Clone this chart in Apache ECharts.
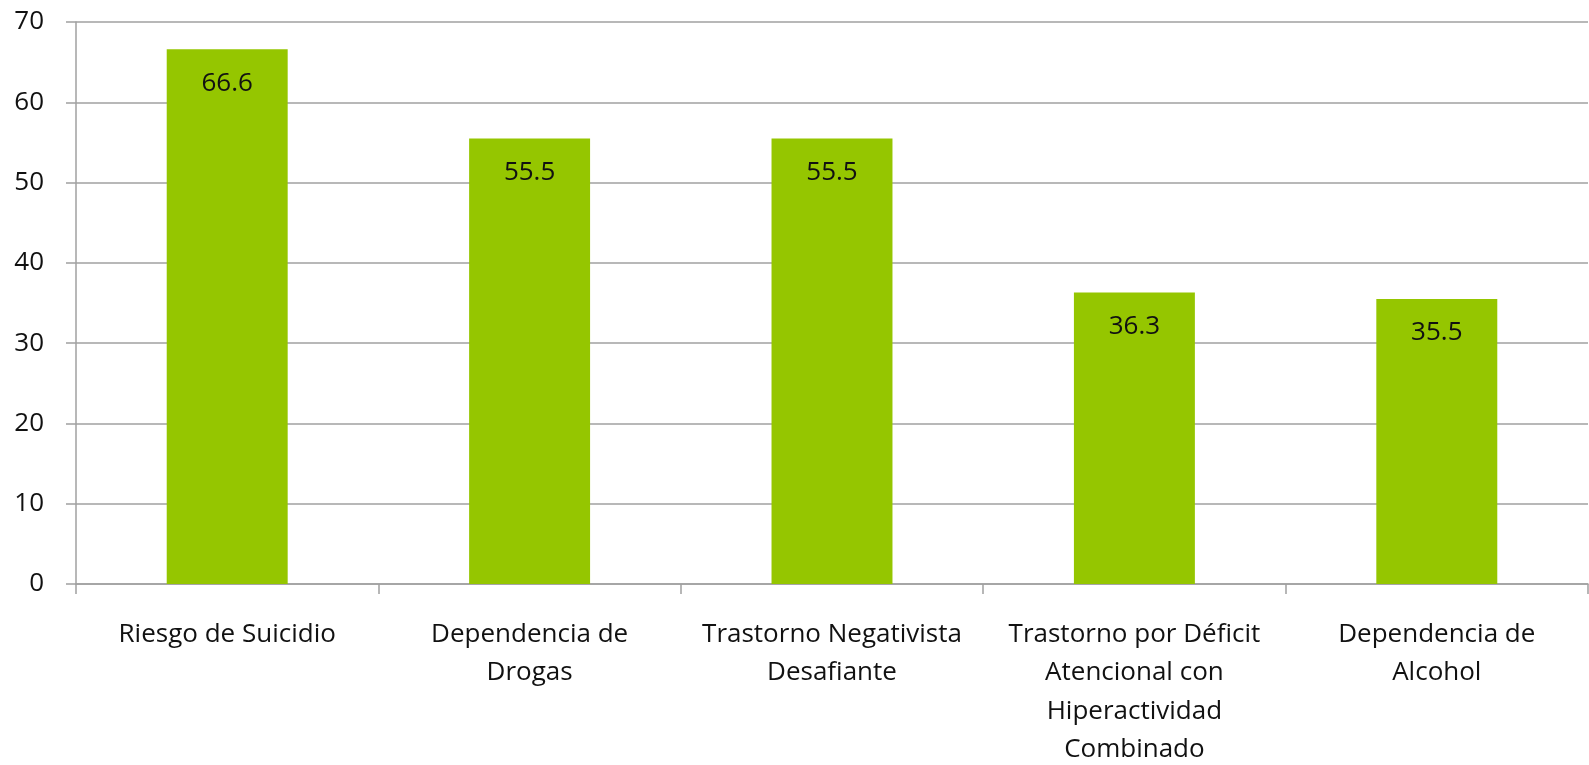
<!DOCTYPE html>
<html>
<head>
<meta charset="utf-8">
<script src="https://cdn.jsdelivr.net/npm/echarts@6/dist/echarts.min.js"></script>
<style>
  html, body { margin: 0; padding: 0; background: #fff; }
  #chart { width: 1589px; height: 765px; }
</style>
</head>
<body>
<div id="chart"></div>
<script>
const categories = [
  'Riesgo de Suicidio',
  'Dependencia de\nDrogas',
  'Trastorno Negativista\nDesafiante',
  'Trastorno por Déficit\nAtencional con\nHiperactividad\nCombinado',
  'Dependencia de\nAlcohol'
]
const values = [66.6, 55.5, 55.5, 36.3, 35.5]
const yTicks = { min: 0, max: 70, interval: 10 }

const font = '"Open Sans", "Noto Sans", sans-serif'
const chart = echarts.init(document.getElementById('chart'))
chart.setOption({
  animation: false,
  grid: { left: 76, right: 1, top: 22, bottom: 181, containLabel: false, outerBoundsMode: 'none' },
  xAxis: {
    type: 'category',
    data: categories,
    axisLine: { lineStyle: { color: '#a0a0a0', width: 1.5 } },
    axisTick: { show: true, length: 10, lineStyle: { color: '#a0a0a0', width: 1.5 } },
    axisLabel: { color: '#111', fontSize: 26, fontFamily: font, margin: 31, lineHeight: 38.5, interval: 0 }
  },
  yAxis: {
    type: 'value',
    min: yTicks.min, max: yTicks.max, interval: yTicks.interval,
    axisLine: { show: true, lineStyle: { color: '#a0a0a0', width: 1.5 } },
    axisTick: { show: true, length: 10, lineStyle: { color: '#a0a0a0', width: 1.5 } },
    splitLine: { lineStyle: { color: '#a0a0a0', width: 1.5 } },
    axisLabel: { color: '#111', fontSize: 26, fontFamily: font, margin: 32 }
  },
  series: [{
    type: 'bar',
    data: values,
    barCategoryGap: '60%',
    itemStyle: { color: '#95c600' },
    label: {
      show: true,
      position: 'insideTop',
      distance: 21,
      color: '#111',
      fontSize: 26,
      fontFamily: font
    }
  }]
})
</script>
</body>
</html>
